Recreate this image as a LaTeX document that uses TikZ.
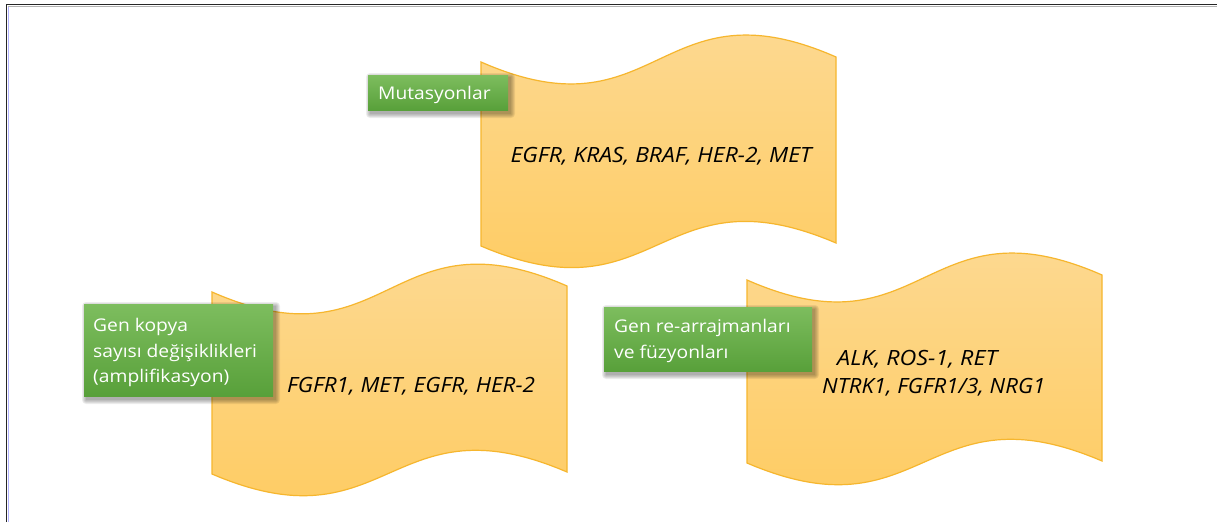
\documentclass[tikz,border=0pt]{standalone}
\usepackage{fontspec}
\setmainfont{Open Sans}
\newfontfamily\lblfont[FakeStretch=1.1]{Open Sans}
\usetikzlibrary{calc}
\definecolor{wavetop}{HTML}{FCDB99}
\definecolor{wavebot}{HTML}{FFCA5C}
\definecolor{waveline}{HTML}{F6B62E}
\definecolor{gtop}{HTML}{7DBD5E}
\definecolor{gbot}{HTML}{58A03A}
\newcommand\wavepath[6]{%
  \path[wavefill] (#1,#3) .. controls ({(#1+#2)/2},{#3+78}) and ({(#1+#2)/2},{#4-78}) .. (#2,#4)
    -- (#2,#6) .. controls ({(#1+#2)/2},{#6-76}) and ({(#1+#2)/2},{#5+76}) .. (#1,#5) -- cycle;}
% name, x, y, w, h
\newcommand\greenbox[5]{%
  \foreach \s in {4,3,2,1,0}{%
    \fill[black, opacity=0.07, rounded corners=\s pt]
      ({#2+2-\s},{#3+2-\s}) rectangle ({#2+#4+3+\s},{#3+#5+4+\s});}
  \node[lblbox, minimum width=#4 pt, minimum height=#5 pt] (#1) at (#2,#3) {};}
\begin{document}
\begin{tikzpicture}[x=1pt,y=-1pt,
  wavefill/.style={draw=waveline, line width=1.2pt, top color=wavetop, bottom color=wavebot},
  lblbox/.style={draw=none, inner sep=0pt, anchor=north west, top color=gtop, bottom color=gbot},
  lbltext/.style={text=white, font=\lblfont\fontsize{17.5}{25.5}\selectfont, inner sep=0pt, anchor=base west},
  gene/.style={text=black, font=\fontsize{21}{25}\selectfont\itshape, inner sep=0pt}]
\useasboundingbox (0,0) rectangle (1217,522);
\fill[white] (0,0) rectangle (1217,522);
% frame
\draw[line width=1.5pt, black!85] (6.5,522) -- (6.5,4.5) -- (1217,4.5);
\draw[line width=0.8pt, blue!30] (8.3,522) -- (8.3,6);
\draw[line width=0.6pt, black!30] (8,6.2) -- (1217,6.2);
% wave shapes
\wavepath{481}{836}{62}{57}{246}{243}
\wavepath{212}{567}{292}{286}{474}{472}
\wavepath{747}{1102}{280}{275}{463}{461}
% gene texts
\node[gene, anchor=base] (g1) at (661,162) {\resizebox{301pt}{\height}{EGFR, KRAS, BRAF, HER-2, MET}};
\node[gene, anchor=base] (g2) at (411,392) {\resizebox{248pt}{\height}{FGFR1, MET, EGFR, HER-2}};
\node[gene, anchor=base west] (g3) at (837,365) {\resizebox{160pt}{\height}{ALK, ROS-1, RET}};
\node[gene, anchor=base west] (g4) at (822,393) {\resizebox{223pt}{\height}{NTRK1, FGFR1/3, NRG1}};
% green label boxes
\greenbox{b1}{368}{75}{140}{35}
\node[lbltext] (t1) at (378,99) {Mutasyonlar};
\greenbox{b2}{84}{304}{189}{92}
\node[lbltext] (t2a) at (93,331) {Gen kopya};
\node[lbltext] (t2b) at (93,357) {sayısı değişiklikleri};
\node[lbltext] (t2c) at (93,382) {(amplifikasyon)};
\greenbox{b3}{604}{307}{208}{64}
\node[lbltext] (t3a) at (614,332) {Gen re-arrajmanları};
\node[lbltext] (t3b) at (614,358) {ve füzyonları};
\end{tikzpicture}
\end{document}
